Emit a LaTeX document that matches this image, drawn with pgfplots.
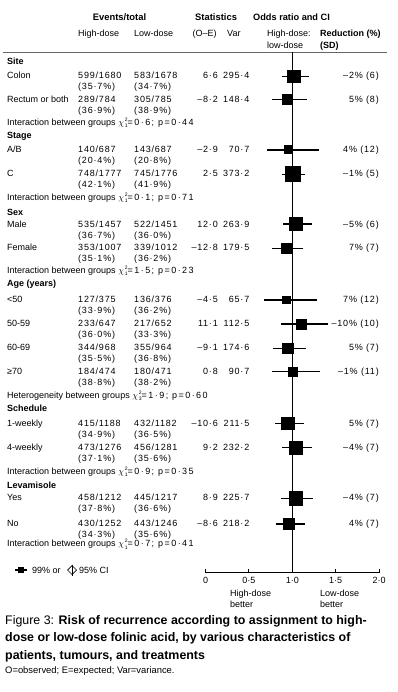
\documentclass[border=0pt]{standalone}
\usepackage{fontspec}
\setmainfont{Liberation Sans}
\newfontfamily\numfont[LetterSpace=9]{Liberation Sans}
\newfontfamily\chifont[LetterSpace=16]{Liberation Sans}
\usepackage{pgfplots}
\usepackage{pgfplotstable}
\pgfplotsset{compat=1.18}

% y = -(pixel row), or = odds ratio, em/ep = 99% CI minus/plus, s = half side of square (pt)
\pgfplotstableread{
y      or     em     ep     s
-76.5  1.023  0.143  0.165  6.4
-99.5  0.946  0.180  0.223  5.0
-150   0.960  0.2535 0.344  4.0
-174.3 1.007  0.126  0.143  7.5
-224   1.0465 0.1535 0.1795 6.7
-248.3 0.931  0.163  0.198  5.0
-300   0.934  0.254  0.349  3.7
-324   1.104  0.238  0.303  5.0
-348.3 0.949  0.168  0.205  5.3
-371.7 1.009  0.239  0.313  4.3
-423.3 0.951  0.154  0.184  6.2
-447.7 1.040  0.161  0.192  6.5
-498.3 1.040  0.164  0.195  6.7
-524   0.961  0.1535 0.1835 5.8
}\ordata

\newcommand\lt[3]{\node[anchor=base west] at (#1,#2) {#3};}
\newcommand\rt[3]{\node[anchor=base east] at (#1,#2) {#3};}
\newcommand\drow[9]{%
  \lt{7}{#1}{#2}%
  \lt{78}{#1}{\numfont #3}%
  \lt{134}{#1}{\numfont #4}%
  \rt{218}{#1}{\numfont #5}%
  \rt{249.5}{#1}{\numfont #6}%
  \rt{379}{#1}{\numfont #7}%
  \lt{78}{#1+11}{\numfont #8}%
  \lt{134}{#1+11}{\numfont #9}%
}
\newcommand\chisq[1]{\smash{$\chi$\kern0.9pt\rlap{\raisebox{4pt}{\fontsize{5}{5}\selectfont 2}}\raisebox{-2.3pt}{\fontsize{5}{5}\selectfont #1}}}
\newcommand\inter[4]{\lt{7}{#1}{#2 \chisq{#3}{\chifont #4}}}

\begin{document}
\begin{tikzpicture}
\begin{scope}[x=1pt, y=-1pt, every node/.style={inner sep=0pt, yshift=-3.3pt, font=\fontsize{9}{11}\selectfont}]
\path[use as bounding box] (0,0) rectangle (398,692);
% headers
\node[anchor=base, font=\fontsize{9.4}{11}\selectfont] at (119.5,17) {\bfseries Events/total};
\lt{78}{33}{High-dose}
\lt{134}{33}{Low-dose}
\node[anchor=base west, font=\fontsize{9.4}{11}\selectfont] at (195,17) {\bfseries Statistics};
\lt{192.5}{33}{(O–E)}
\lt{227}{33}{Var}
\node[anchor=base west, font=\fontsize{9.2}{11}\selectfont] at (253,17) {\bfseries Odds ratio and CI};
\lt{267}{33}{High-dose:}
\lt{267}{45.5}{low-dose}
\lt{320}{33}{\bfseries Reduction (\%)}
\lt{320}{45.5}{\bfseries (SD)}
\draw[line width=1.6pt, black!60] (3,52.5) -- (387,52.5);
% Site
\lt{7}{61}{\bfseries Site}
\drow{75}{Colon}{599/1680}{583/1678}{6·6}{295·4}{–2\% (6)}{(35·7\%)}{(34·7\%)}
\drow{99.5}{Rectum or both}{289/784}{305/785}{–8·2}{148·4}{5\% (8)}{(36·9\%)}{(38·9\%)}
\inter{122}{Interaction between groups}{1}{=0·6; p=0·44}
% Stage
\lt{7}{135}{\bfseries Stage}
\drow{149.5}{A/B}{140/687}{143/687}{–2·9}{70·7}{4\% (12)}{(20·4\%)}{(20·8\%)}
\drow{173}{C}{748/1777}{745/1776}{2·5}{373·2}{–1\% (5)}{(42·1\%)}{(41·9\%)}
\inter{197}{Interaction between groups}{1}{=0·1; p=0·71}
% Sex
\lt{7}{212}{\bfseries Sex}
\drow{224}{Male}{535/1457}{522/1451}{12·0}{263·9}{–5\% (6)}{(36·7\%)}{(36·0\%)}
\drow{247.5}{Female}{353/1007}{339/1012}{–12·8}{179·5}{7\% (7)}{(35·1\%)}{(36·2\%)}
\inter{270}{Interaction between groups}{1}{=1·5; p=0·23}
% Age
\lt{7}{283}{\bfseries Age (years)}
\drow{299}{<50}{127/375}{136/376}{–4·5}{65·7}{7\% (12)}{(33·9\%)}{(36·2\%)}
\drow{323}{50-59}{233/647}{217/652}{11·1}{112·5}{–10\% (10)}{(36·0\%)}{(33·3\%)}
\drow{347.5}{60-69}{344/968}{355/964}{–9·1}{174·6}{5\% (7)}{(35·5\%)}{(36·8\%)}
\drow{371}{≥70}{184/474}{180/471}{0·8}{90·7}{–1\% (11)}{(38·8\%)}{(38·2\%)}
\inter{395}{Heterogeneity between groups}{3}{=1·9; p=0·60}
% Schedule
\lt{7}{408}{\bfseries Schedule}
\drow{422.7}{1-weekly}{415/1188}{432/1182}{–10·6}{211·5}{5\% (7)}{(34·9\%)}{(36·5\%)}
\drow{446.7}{4-weekly}{473/1276}{456/1281}{9·2}{232·2}{–4\% (7)}{(37·1\%)}{(35·6\%)}
\inter{470.7}{Interaction between groups}{1}{=0·9; p=0·35}
% Levamisole
\lt{7}{485}{\bfseries Levamisole}
\drow{496.7}{Yes}{458/1212}{445/1217}{8·9}{225·7}{–4\% (7)}{(37·8\%)}{(36·6\%)}
\drow{523}{No}{430/1252}{443/1246}{–8·6}{218·2}{4\% (7)}{(34·3\%)}{(35·6\%)}
\inter{543.5}{Interaction between groups}{1}{=0·7; p=0·41}
% legend key
\draw[line width=1.4pt] (15,570) -- (27,570);
\fill (17.6,566.6) rectangle (24.4,573.4);
\lt{32}{570}{99\% or}
\draw[line width=0.7pt] (67.5,570) -- (72,565.5) -- (76.5,570) -- (72,574.5) -- cycle;
\draw[line width=0.7pt] (72,564.5) -- (72,575.5);
\lt{79}{570}{95\% CI}
% under axis
\lt{230}{593}{High-dose}
\lt{230}{604.5}{better}
\lt{320}{593}{Low-dose}
\lt{320}{604.5}{better}
% caption
\begin{scope}[every node/.style={inner sep=0pt, yshift=-4.4pt, font=\fontsize{12.4}{14}\selectfont}]
\lt{5}{620}{Figure 3: \textbf{Risk of recurrence according to assignment to high-}}
\lt{5}{637.5}{\textbf{dose or low-dose folinic acid, by various characteristics of}}
\lt{5}{655}{\textbf{patients, tumours, and treatments}}
\end{scope}
\node[anchor=base west, font=\fontsize{9.4}{11}\selectfont] at (5,670) {O=observed; E=expected; Var=variance.};
\end{scope}

\begin{axis}[
  at={(205.5pt,-572.7pt)}, anchor=south west,
  scale only axis, width=173.5pt, height=520.7pt,
  xmin=0, xmax=2, ymin=-572.7, ymax=-52,
  clip=false,
  axis x line=bottom, axis y line=none,
  x axis line style={-, line width=1pt},
  xtick={0,0.5,1,1.5,2},
  xticklabels={0,0·5,1·0,1·5,2·0},
  ytick=\empty,
  tick align=inside,
  major tick length=4pt,
  tick style={line width=1pt, black},
  xticklabel style={font=\fontsize{9}{11}\selectfont, inner sep=0pt, yshift=-4.5pt},
]
\addplot[black, line width=1pt, mark=none] coordinates {(1,-52.5) (1,-572.7)};
\addplot[draw=none, mark=none, forget plot,
  error bars/.cd, x dir=both, x explicit, error mark=none,
  error bar style={draw=black, line width=1.4pt}]
  table[x=or, y=y, x error minus=em, x error plus=ep] {\ordata};
\addplot[only marks, mark=square*, scatter,
  scatter/use mapped color={draw=black, fill=black},
  mark options={line width=0pt},
  visualization depends on={\thisrow{s} \as \msz},
  scatter/@pre marker code/.append style={/tikz/mark size=\msz}]
  table[x=or, y=y] {\ordata};
\end{axis}
\end{tikzpicture}
\end{document}
